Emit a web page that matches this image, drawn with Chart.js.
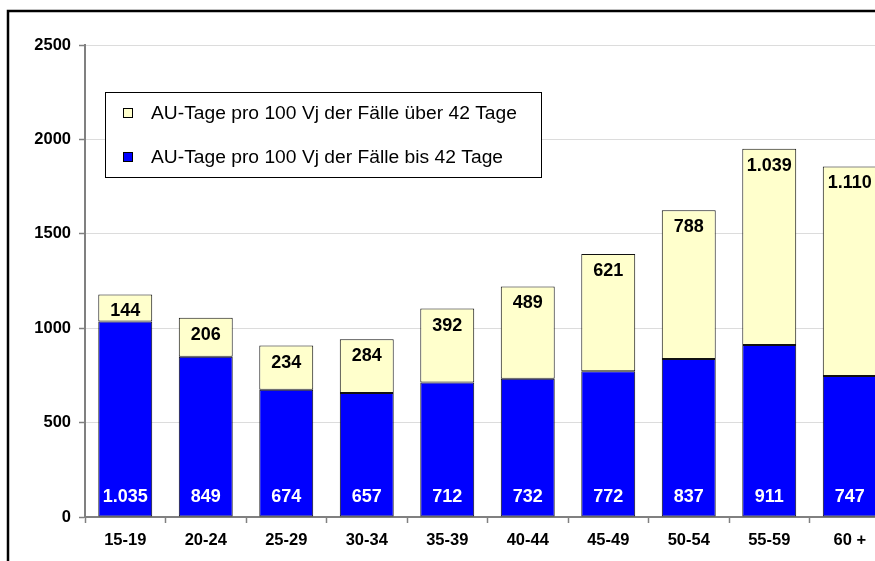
<!DOCTYPE html>
<html>
<head>
<meta charset="utf-8">
<script src="https://cdn.jsdelivr.net/npm/chart.js@4"></script>
<style>
  html, body { margin: 0; padding: 0; background: #fff; overflow: hidden; }
  #wrap { position: absolute; left: 0; top: 0; width: 910px; height: 561px; }
</style>
</head>
<body>
<div id="wrap"><canvas id="myChart" width="910" height="561"></canvas></div>
<script>
// Altersgruppen
var ageGroups = ['15-19', '20-24', '25-29', '30-34', '35-39', '40-44', '45-49', '50-54', '55-59', '60 +'];
// AU-Tage pro 100 Vj der Fälle bis 42 Tage
var shortCases = [1035, 849, 674, 657, 712, 732, 772, 837, 911, 747];
// AU-Tage pro 100 Vj der Fälle über 42 Tage
var longCases = [144, 206, 234, 284, 392, 489, 621, 788, 1039, 1110];
var yTicks = [0, 500, 1000, 1500, 2000, 2500];

var FONT = '"Liberation Sans", Arial, sans-serif';

function fmt(v) {
  return v.toLocaleString('de-DE');
}

// Rahmen um das Diagramm
var framePlugin = {
  id: 'frame',
  beforeDraw: function (chart) {
    var c = chart.ctx;
    c.save();
    c.fillStyle = '#fff';
    c.fillRect(0, 0, chart.width, chart.height);
    c.strokeStyle = '#000';
    c.lineWidth = 2.5;
    c.strokeRect(8, 11, 1000, 700);
    c.restore();
  }
};

// Werte in die Balken schreiben
var valuePlugin = {
  id: 'values',
  afterDatasetsDraw: function (chart) {
    var c = chart.ctx;
    c.save();
    c.font = 'bold 18px ' + FONT;
    c.textAlign = 'center';
    c.textBaseline = 'middle';
    var bottomMeta = chart.getDatasetMeta(0);
    var topMeta = chart.getDatasetMeta(1);
    bottomMeta.data.forEach(function (bar, i) {
      c.fillStyle = '#fff';
      c.fillText(fmt(shortCases[i]), bar.x, bar.base - 19);
    });
    topMeta.data.forEach(function (bar, i) {
      c.fillStyle = '#000';
      c.fillText(fmt(longCases[i]), bar.x, bar.y + 17);
    });
    c.restore();
  }
};

// Legende im Diagramm
var legendPlugin = {
  id: 'innerLegend',
  afterDraw: function (chart) {
    var c = chart.ctx;
    c.save();
    c.fillStyle = '#fff';
    c.fillRect(105, 92, 436, 85);
    c.strokeStyle = '#000';
    c.lineWidth = 1;
    c.strokeRect(105.5, 92.5, 436, 85);
    var items = [
      { text: 'AU-Tage pro 100 Vj der Fälle über 42 Tage', color: '#FFFFCC', y: 113 },
      { text: 'AU-Tage pro 100 Vj der Fälle bis 42 Tage', color: '#0000FF', y: 157 }
    ];
    items.forEach(function (it) {
      c.fillStyle = it.color;
      c.fillRect(123, it.y - 5, 10, 10);
      c.strokeStyle = '#000';
      c.strokeRect(123.5, it.y - 4.5, 9, 9);
      c.save();
      c.translate(151, it.y + 1);
      c.scale(1.1, 1);
      c.font = '17.5px ' + FONT;
      c.textBaseline = 'middle';
      c.textAlign = 'left';
      c.fillStyle = '#000';
      c.fillText(it.text, 0, 0);
      c.restore();
    });
    c.restore();
  }
};

var ctx = document.getElementById('myChart');
var myChart = new Chart(ctx, {
  type: 'bar',
  data: {
    labels: ageGroups,
    datasets: [{
      label: 'AU-Tage pro 100 Vj der Fälle bis 42 Tage',
      data: shortCases,
      backgroundColor: '#0000FF',
      borderColor: '#111',
      borderWidth: 1,
      borderSkipped: false,
      barPercentage: 0.67,
      categoryPercentage: 1
    }, {
      label: 'AU-Tage pro 100 Vj der Fälle über 42 Tage',
      data: longCases,
      backgroundColor: '#FFFFCC',
      borderColor: '#111',
      borderWidth: 1,
      borderSkipped: false,
      barPercentage: 0.67,
      categoryPercentage: 1
    }]
  },
  options: {
    responsive: false,
    animation: false,
    layout: {
      padding: { left: 0, right: 20, top: 45, bottom: 0 }
    },
    plugins: {
      legend: { display: false },
      tooltip: { enabled: false }
    },
    scales: {
      x: {
        stacked: true,
        afterFit: function (s) { s.height = 44; },
        grid: {
          offset: true,
          drawOnChartArea: false,
          tickLength: 6,
          tickColor: '#808080',
          tickWidth: 1.5
        },
        border: { color: '#808080', width: 2 },
        ticks: {
          color: '#000',
          padding: 8,
          font: { family: FONT, size: 16.5, weight: 'bold' }
        }
      },
      y: {
        stacked: true,
        min: 0,
        max: 2500,
        afterFit: function (s) { s.width = 85; },
        afterBuildTicks: function (s) {
          s.ticks = yTicks.map(function (v) { return { value: v }; });
        },
        grid: {
          color: '#dcdcdc',
          lineWidth: 1,
          tickLength: 6,
          tickColor: '#808080',
          tickWidth: 1.5
        },
        border: { color: '#808080', width: 2 },
        ticks: {
          color: '#000',
          padding: 8,
          font: { family: FONT, size: 16.5, weight: 'bold' },
          callback: function (v) { return v; }
        }
      }
    }
  },
  plugins: [framePlugin, valuePlugin, legendPlugin]
});
</script>
</body>
</html>
